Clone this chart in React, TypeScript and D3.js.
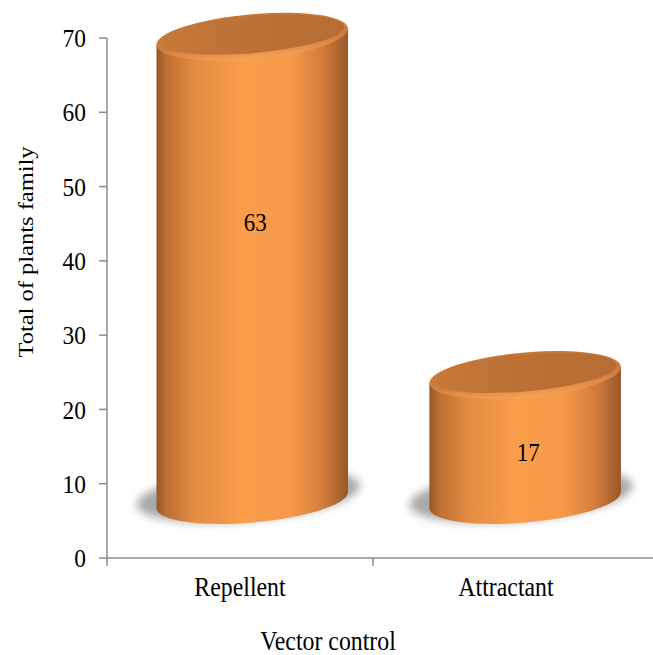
import React from "react";
import * as d3 from "d3";

const categories = ["Repellent", "Attractant"];
const values = [63, 17];
const yTicks = [0, 10, 20, 30, 40, 50, 60, 70];
const yTitle = "Total of plants family";
const xTitle = "Vector control";

const W = 653;
const H = 655;
const FONT = "'Liberation Serif', 'Times New Roman', serif";
const SX = 0.9;

function HText(props: { x: number; y: number; anchor: string; size: number; children: React.ReactNode; dy?: string }) {
  return (
    <text
      transform={`translate(${props.x},${props.y}) scale(${SX},1)`}
      dy={props.dy}
      textAnchor={props.anchor}
      fontFamily={FONT}
      fontSize={props.size}
      fill="#000"
    >
      {props.children}
    </text>
  );
}

export default function App() {
  const y = d3.scaleLinear().domain([0, 70]).range([558, 38]);
  const x = d3.scaleBand<string>().domain(categories).range([107, 639]).padding(0);
  const band = x.bandwidth();
  const a = band * 0.36;
  const b = 22.5;
  const skew = -4.8;
  const baseY = y(0) - 58;
  const axisColor = "#8c8c8c";

  return (
    <svg width={W} height={H} style={{ position: "absolute", left: 0, top: 0, background: "#fff" }}>
      <defs>
        <linearGradient id="body" x1="0" x2="1" y1="0" y2="0">
          <stop offset="0" stopColor="#945727" />
          <stop offset="0.05" stopColor="#bd6e31" />
          <stop offset="0.2" stopColor="#e48c42" />
          <stop offset="0.45" stopColor="#f99d4b" />
          <stop offset="0.7" stopColor="#f69a49" />
          <stop offset="0.87" stopColor="#d47c3a" />
          <stop offset="1" stopColor="#96572a" />
        </linearGradient>
        <linearGradient id="rim" x1="0" x2="0" y1="0" y2="1">
          <stop offset="0" stopColor="#c47638" />
          <stop offset="0.65" stopColor="#cf7e3c" />
          <stop offset="1" stopColor="#f6a257" />
        </linearGradient>
        <linearGradient id="topface" x1="0" x2="1" y1="0" y2="0">
          <stop offset="0" stopColor="#c77939" />
          <stop offset="0.5" stopColor="#bb7035" />
          <stop offset="1" stopColor="#b66c33" />
        </linearGradient>
        <filter id="blur" x="-30%" y="-100%" width="160%" height="300%">
          <feGaussianBlur stdDeviation="4" />
        </filter>
      </defs>

      {/* axes */}
      <line x1={x.range()[0]} x2={W} y1={y(0)} y2={y(0)} stroke={axisColor} strokeWidth={1.5} />
      <line x1={x.range()[0]} x2={x.range()[0]} y1={y(0)} y2={y(70)} stroke={axisColor} strokeWidth={1.5} />
      {yTicks.map((t) => (
        <g key={t}>
          <line x1={x.range()[0] - 8} x2={x.range()[0]} y1={y(t)} y2={y(t)} stroke={axisColor} strokeWidth={1.5} />
          <HText x={86} y={y(t)} dy="0.35em" anchor="end" size={26}>
            {t}
          </HText>
        </g>
      ))}
      {categories.map((c) => (
        <line key={c} x1={x(c)!} x2={x(c)!} y1={y(0)} y2={y(0) + 8} stroke={axisColor} strokeWidth={1.5} />
      ))}
      {categories.map((c) => (
        <HText key={c} x={x(c)! + band / 2} y={596} anchor="middle" size={26.5}>
          {c}
        </HText>
      ))}
      <HText x={328} y={650} anchor="middle" size={26.5}>
        {xTitle}
      </HText>
      <text
        transform={`translate(33,252) rotate(-90) scale(1,0.85)`}
        textAnchor="middle"
        fontFamily={FONT}
        fontSize={24.5}
        fill="#000"
      >
        {yTitle}
      </text>

      {/* cylinders */}
      {categories.map((c, i) => {
        const center = x(c)! + band / 2;
        const cx = center * 1.026 + 6;
        const h = (y(0) - y(values[i])) * 0.99;
        const bodyPath = `M ${-a},${-h} L ${-a},0 A ${a} ${b} 0 0 0 ${a},0 L ${a},${-h} Z`;
        const labelY = y(values[i] * 0.672 + 2.9);
        return (
          <g key={c}>
            <g transform={`translate(${cx},${baseY}) skewY(${skew})`}>
              <ellipse cx={-4} cy={-5} rx={a + 16} ry={b + 3} fill="#707070" opacity={0.6} filter="url(#blur)" />
              <path d={bodyPath} fill="url(#body)" />
              <ellipse cx={0} cy={-h} rx={a} ry={b} fill="url(#rim)" />
              <ellipse cx={0} cy={-h - 2} rx={a - 4} ry={b - 4} fill="url(#topface)" />
            </g>
            <HText x={cx + 3} y={labelY} dy="0.35em" anchor="middle" size={25.5}>
              {values[i]}
            </HText>
          </g>
        );
      })}
    </svg>
  );
}
